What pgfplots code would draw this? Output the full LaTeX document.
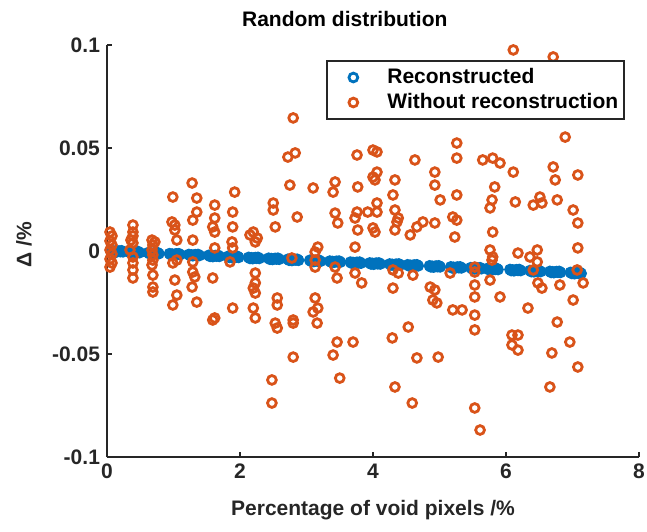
\documentclass[border=0pt]{standalone}
\usepackage{fontspec}
\setmainfont{Liberation Sans}
\usepackage{pgfplots}
\pgfplotsset{compat=1.18}
\definecolor{mblue}{rgb}{0,0.447,0.741}
\definecolor{morange}{rgb}{0.85,0.325,0.098}
\definecolor{axgray}{HTML}{262626}
\newcommand{\lbl}{\bfseries\fontsize{10.5}{12.5}\selectfont}
\begin{document}
\begin{tikzpicture}
\begin{axis}[
  scale only axis, width=266pt, height=206pt,
  xmin=0, xmax=8, ymin=-0.1, ymax=0.1,
  enlargelimits=false,
  axis x line*=bottom, axis y line*=left,
  axis line style={-, draw=axgray, line width=1pt},
  xtick={0,2,4,6,8}, xticklabels={0,2,4,6,8},
  ytick={-0.1,-0.05,0,0.05,0.1}, yticklabels={-0.1,-0.05,0,0.05,0.1},
  tick align=inside, major tick length=2.5pt,
  tick style={draw=axgray, line width=1pt},
  ticklabel style={font=\lbl, text=axgray},
  xlabel={Percentage of void pixels /\%},
  xlabel style={font=\lbl, text=axgray, at={(rel axis cs:0.5,-0.129)}, anchor=center},
  ylabel={Δ /\%},
  ylabel style={font=\lbl, text=axgray, at={(rel axis cs:-0.156,0.515)}, anchor=center},
  title={Random distribution},
  every axis title shift=0pt,
  title style={font=\lbl, text=black, at={(rel axis cs:0.447,1.063)}, anchor=center},
  legend cell align=left,
  legend image code/.code={\path[draw=none,fill=none] (0pt,-3pt) rectangle (27pt,3pt); \draw[#1] plot coordinates {(13pt,0pt)};},
  legend style={at={(rel axis cs:0.974,0.9636)}, anchor=north east, draw=axgray, line width=1pt,
    font=\lbl, inner xsep=0pt, inner ysep=2pt, row sep=0pt,
    nodes={inner xsep=3pt, inner ysep=1.5pt, text height=7.5pt, text depth=2pt},
    /tikz/every odd column/.append style={column sep=0pt}},
]
\addplot[only marks, mark=o, mark size=2.2pt, draw=mblue, mark options={line width=1.4pt, draw=mblue}] coordinates {
(0.08,0.0001) (0.10,-0.0004) (0.12,-0.0001) (0.14,-0.0005) (0.16,-0.0002) (0.18,0.0000) (0.20,-0.0003) (0.22,0.0001) (0.24,-0.0004)
(0.33,-0.0003) (0.35,-0.0008) (0.37,-0.0005) (0.39,-0.0009) (0.41,-0.0006) (0.43,-0.0004) (0.45,-0.0007) (0.47,-0.0003) (0.49,-0.0008)
(0.62,-0.0008) (0.64,-0.0013) (0.66,-0.0010) (0.68,-0.0014) (0.70,-0.0011) (0.72,-0.0009) (0.74,-0.0012) (0.76,-0.0008) (0.78,-0.0013)
(0.94,-0.0013) (0.96,-0.0018) (0.98,-0.0015) (1.00,-0.0019) (1.02,-0.0016) (1.04,-0.0014) (1.06,-0.0017) (1.08,-0.0013) (1.10,-0.0018)
(1.23,-0.0017) (1.25,-0.0022) (1.27,-0.0019) (1.29,-0.0023) (1.31,-0.0020) (1.33,-0.0018) (1.35,-0.0021) (1.37,-0.0017) (1.39,-0.0022)
(1.53,-0.0021) (1.55,-0.0026) (1.57,-0.0023) (1.59,-0.0027) (1.61,-0.0024) (1.63,-0.0022) (1.65,-0.0025) (1.67,-0.0021) (1.69,-0.0026)
(1.82,-0.0026) (1.84,-0.0031) (1.86,-0.0028) (1.88,-0.0032) (1.90,-0.0029) (1.92,-0.0027) (1.94,-0.0030) (1.96,-0.0026) (1.98,-0.0031)
(2.13,-0.0031) (2.15,-0.0036) (2.17,-0.0033) (2.19,-0.0037) (2.21,-0.0034) (2.23,-0.0032) (2.25,-0.0035) (2.27,-0.0031) (2.29,-0.0036)
(2.43,-0.0035) (2.45,-0.0040) (2.47,-0.0037) (2.49,-0.0041) (2.51,-0.0038) (2.53,-0.0036) (2.55,-0.0039) (2.57,-0.0035) (2.59,-0.0040)
(2.72,-0.0040) (2.74,-0.0045) (2.76,-0.0042) (2.78,-0.0046) (2.80,-0.0043) (2.82,-0.0041) (2.84,-0.0044) (2.86,-0.0040) (2.88,-0.0045)
(3.05,-0.0045) (3.07,-0.0050) (3.09,-0.0047) (3.11,-0.0051) (3.13,-0.0048) (3.15,-0.0046) (3.17,-0.0049) (3.19,-0.0045) (3.21,-0.0050)
(3.35,-0.0049) (3.37,-0.0054) (3.39,-0.0051) (3.41,-0.0055) (3.43,-0.0052) (3.45,-0.0050) (3.47,-0.0053) (3.49,-0.0049) (3.51,-0.0054)
(3.66,-0.0054) (3.68,-0.0059) (3.70,-0.0056) (3.72,-0.0060) (3.74,-0.0057) (3.76,-0.0055) (3.78,-0.0058) (3.80,-0.0054) (3.82,-0.0059)
(3.95,-0.0058) (3.97,-0.0063) (3.99,-0.0060) (4.01,-0.0064) (4.03,-0.0061) (4.05,-0.0059) (4.07,-0.0062) (4.09,-0.0058) (4.11,-0.0063)
(4.25,-0.0063) (4.27,-0.0068) (4.29,-0.0065) (4.31,-0.0069) (4.33,-0.0066) (4.35,-0.0064) (4.37,-0.0067) (4.39,-0.0063) (4.41,-0.0068)
(4.52,-0.0067) (4.54,-0.0072) (4.56,-0.0069) (4.58,-0.0073) (4.60,-0.0070) (4.62,-0.0068) (4.64,-0.0071) (4.66,-0.0067) (4.68,-0.0072)
(4.85,-0.0072) (4.87,-0.0077) (4.89,-0.0074) (4.91,-0.0078) (4.93,-0.0075) (4.95,-0.0073) (4.97,-0.0076) (4.99,-0.0072) (5.01,-0.0077)
(5.17,-0.0077) (5.19,-0.0082) (5.21,-0.0079) (5.23,-0.0083) (5.25,-0.0080) (5.27,-0.0078) (5.29,-0.0081) (5.31,-0.0077) (5.33,-0.0082)
(5.47,-0.0081) (5.49,-0.0086) (5.51,-0.0083) (5.53,-0.0087) (5.55,-0.0084) (5.57,-0.0082) (5.59,-0.0085) (5.61,-0.0081) (5.63,-0.0086)
(5.72,-0.0085) (5.74,-0.0090) (5.76,-0.0087) (5.78,-0.0091) (5.80,-0.0088) (5.82,-0.0086) (5.84,-0.0089) (5.86,-0.0085) (5.88,-0.0090)
(6.06,-0.0090) (6.08,-0.0095) (6.10,-0.0092) (6.12,-0.0096) (6.14,-0.0093) (6.16,-0.0091) (6.18,-0.0094) (6.20,-0.0090) (6.22,-0.0095)
(6.36,-0.0095) (6.38,-0.0100) (6.40,-0.0097) (6.42,-0.0101) (6.44,-0.0098) (6.46,-0.0096) (6.48,-0.0099) (6.50,-0.0095) (6.52,-0.0100)
(6.66,-0.0099) (6.68,-0.0104) (6.70,-0.0101) (6.72,-0.0105) (6.74,-0.0102) (6.76,-0.0100) (6.78,-0.0103) (6.80,-0.0099) (6.82,-0.0104)
(6.97,-0.0104) (6.99,-0.0109) (7.01,-0.0106) (7.03,-0.0110) (7.05,-0.0107) (7.07,-0.0105) (7.09,-0.0108) (7.11,-0.0104) (7.13,-0.0109)
};
\addlegendentry{Reconstructed}
\addplot[only marks, mark=o, mark size=2.2pt, draw=morange, mark options={line width=1.4pt, draw=morange}] coordinates {
(0.045,0.0092) (0.075,0.0073) (0.045,0.0049) (0.075,0.0029) (0.045,0.0005) (0.075,-0.0015) (0.045,-0.0039) (0.075,-0.0058) (0.045,-0.0078)
(0.39,0.0126) (0.39,0.0092) (0.39,0.0073) (0.36,0.0053) (0.39,0.0039) (0.346,0.0005) (0.39,-0.0029) (0.39,-0.0058) (0.39,-0.0092) (0.39,-0.0131)
(0.677,0.0053) (0.72,0.0044) (0.69,0.0029) (0.677,0.0005) (0.69,-0.0019) (0.69,-0.0044) (0.677,-0.0068) (0.69,-0.0117) (0.69,-0.0175) (0.69,-0.0199)
(0.99,0.0262) (0.977,0.0141) (1.02,0.0126) (1.02,0.0102) (1.05,0.0053) (1.05,-0.0044) (0.99,-0.0058) (1.02,-0.0141) (1.05,-0.0214) (0.99,-0.0262)
(1.28,0.0330) (1.35,0.0257) (1.35,0.0189) (1.29,0.0150) (1.29,0.0053) (1.29,-0.0053) (1.29,-0.0102) (1.32,-0.0126) (1.28,-0.0175) (1.35,-0.0248)
(1.62,0.0223) (1.62,0.0160) (1.59,0.0117) (1.62,0.0092) (1.62,0.0015) (1.59,-0.0131) (1.62,-0.0325) (1.59,-0.0335)
(1.92,0.0286) (1.89,0.0189) (1.89,0.0117) (1.88,0.0044) (1.89,0.0015) (1.85,-0.0053) (1.89,-0.0277)
(2.20,0.0092) (2.26,0.0063) (2.15,0.0078) (2.23,0.0044) (2.23,-0.0107) (2.23,-0.0155) (2.20,-0.0180) (2.23,-0.0204) (2.20,-0.0277) (2.23,-0.0325)
(2.50,0.0233) (2.50,0.0199) (2.53,0.0117) (2.56,-0.0228) (2.56,-0.0262) (2.53,-0.0350) (2.56,-0.0374) (2.48,-0.0626) (2.48,-0.0738)
(2.80,0.0646) (2.72,0.0456) (2.83,0.0476) (2.75,0.0320) (2.86,0.0165) (2.78,-0.0034) (2.80,-0.0335) (2.80,-0.0350) (2.80,-0.0515)
(3.10,0.0306) (3.17,0.0019) (3.13,-0.0005) (3.13,-0.0044) (3.13,-0.0078) (3.13,-0.0228) (3.17,-0.0277) (3.10,-0.0296) (3.16,-0.0350)
(3.43,0.0335) (3.40,0.0286) (3.43,0.0184) (3.47,0.0136) (3.43,-0.0078) (3.46,-0.0131) (3.46,-0.0442) (3.40,-0.0505) (3.50,-0.0617)
(3.76,0.0466) (3.77,0.0311) (3.76,0.0189) (3.73,0.0160) (3.77,0.0102) (3.73,0.0019) (3.73,-0.0107) (3.83,-0.0155) (3.70,-0.0442)
(4.00,0.0490) (4.06,0.0481) (4.06,0.0383) (4.00,0.0359) (4.03,0.0345) (4.06,0.0233) (4.06,0.0189) (3.92,0.0189) (4.00,0.0112) (4.03,0.0092)
(4.33,0.0345) (4.30,0.0272) (4.33,0.0199) (4.38,0.0160) (4.36,0.0141) (4.33,0.0102) (4.30,-0.0092) (4.38,-0.0107) (4.30,-0.0180) (4.29,-0.0422) (4.33,-0.0660)
(4.63,0.0442) (4.56,0.0078) (4.66,0.0117) (4.75,0.0141) (4.60,-0.0117) (4.53,-0.0369) (4.66,-0.0519) (4.59,-0.0738)
(4.93,0.0383) (4.93,0.0320) (5.01,0.0248) (4.93,0.0136) (4.86,-0.0175) (4.93,-0.0189) (4.90,-0.0238) (4.96,-0.0252) (4.98,-0.0515)
(5.26,0.0524) (5.26,0.0451) (5.26,0.0272) (5.20,0.0165) (5.26,0.0150) (5.23,0.0068) (5.16,-0.0107) (5.20,-0.0286) (5.34,-0.0286)
(5.53,-0.0078) (5.53,-0.0102) (5.53,-0.0165) (5.53,-0.0223) (5.53,-0.0311) (5.53,-0.0383) (5.53,-0.0762) (5.61,-0.0869)
(5.65,0.0442) (5.80,0.0451) (5.91,0.0427) (5.83,0.0311) (5.79,0.0248) (5.76,0.0209) (5.80,0.0092) (5.76,0.0005) (5.80,-0.0029) (5.79,-0.0044) (5.76,-0.0141) (5.91,-0.0223)
(6.11,0.0976) (6.11,0.0383) (6.14,0.0238) (6.18,-0.0010) (6.09,-0.0408) (6.18,-0.0408) (6.09,-0.0456) (6.18,-0.0481)
(6.41,0.0223) (6.51,0.0262) (6.54,0.0233) (6.36,-0.0029) (6.47,0.0005) (6.47,-0.0053) (6.41,-0.0092) (6.48,-0.0155) (6.54,-0.0180) (6.33,-0.0277)
(6.71,0.0942) (6.71,0.0408) (6.74,0.0345) (6.77,0.0248) (6.81,-0.0165) (6.77,-0.0345) (6.69,-0.0495) (6.66,-0.0660)
(6.89,0.0553) (7.08,0.0369) (7.01,0.0199) (7.08,0.0136) (7.08,0.0015) (7.07,-0.0092) (7.16,-0.0155) (7.01,-0.0238) (6.96,-0.0442) (7.08,-0.0563)
};
\addlegendentry{Without reconstruction}
\end{axis}
\pgfresetboundingbox
\path (-53.5pt,-37pt) rectangle (270pt,228.5pt);
\end{tikzpicture}
\end{document}
